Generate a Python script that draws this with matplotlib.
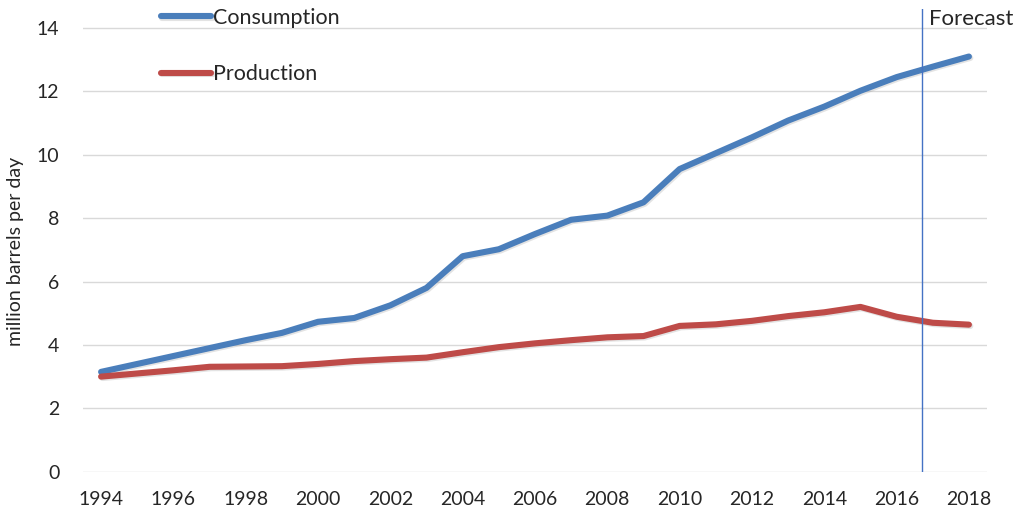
import matplotlib
matplotlib.use("Agg")
import matplotlib.pyplot as plt
import matplotlib.patheffects as pe

years = list(range(1994, 2019))
consumption = [3.15, 3.40, 3.65, 3.90, 4.15, 4.38, 4.73, 4.85, 5.25, 5.80, 6.80, 7.02, 7.50,
               7.95, 8.08, 8.50, 9.55, 10.05, 10.55, 11.08, 11.52, 12.02, 12.45, 12.78, 13.10]
production = [3.00, 3.10, 3.20, 3.31, 3.32, 3.33, 3.40, 3.49, 3.55, 3.60, 3.77, 3.93, 4.05,
              4.15, 4.24, 4.28, 4.60, 4.65, 4.76, 4.91, 5.03, 5.20, 4.89, 4.70, 4.64]
xtick_years = list(range(1994, 2019, 2))
ytick_vals = [0, 2, 4, 6, 8, 10, 12, 14]
forecast_x = 2016.7

plt.rcParams['font.family'] = ['Lato', 'DejaVu Sans']

fig = plt.figure(figsize=(10.24, 5.13), dpi=100)
ax = fig.add_axes([83/1024, 1 - 471.7/513, (987-83)/1024, (471.7-9)/513])

shadow = [pe.SimpleLineShadow(offset=(1.0, -1.0), shadow_color='#909090', alpha=0.25), pe.Normal()]
l1, = ax.plot(years, consumption, color='#4A7EBB', lw=4.4, solid_capstyle='round',
              solid_joinstyle='round', label='Consumption', path_effects=shadow, zorder=3)
l2, = ax.plot(years, production, color='#BE4B48', lw=4.4, solid_capstyle='round',
              solid_joinstyle='round', label='Production', path_effects=shadow, zorder=3)

ax.axvline(forecast_x, color='#4472C4', lw=1.0, zorder=4)
ax.text(forecast_x + 0.2, 14.27, 'Forecast', fontsize=16, color='#262626', va='center', ha='left')

ax.set_xlim(1993.5, 2018.5)
ax.set_ylim(0, 14.6)
ax.set_yticks(ytick_vals)
ax.set_xticks(xtick_years)
ax.set_xticklabels([str(y) for y in xtick_years])
ax.grid(axis='y', color='#D9D9D9', lw=1.0, zorder=0)
ax.set_axisbelow(True)
for s in ax.spines.values():
    s.set_visible(False)
ax.tick_params(axis='both', length=0, labelsize=14, labelcolor='#262626')
ax.tick_params(axis='x', pad=14)
ax.tick_params(axis='y', pad=17)
ax.set_ylabel('million barrels per day', fontsize=14, color='#262626')
ax.yaxis.set_label_coords(-59/904, 0.475)

fig.legend(handles=[l1, l2], loc='upper left', bbox_to_anchor=(161/1024, 1 - 8/513),
           frameon=False, fontsize=15.5, handlelength=2.33, handletextpad=0.1,
           labelspacing=1.68, borderpad=0, borderaxespad=0, labelcolor='#262626')

fig.savefig('out.png', dpi=100, facecolor='white')
